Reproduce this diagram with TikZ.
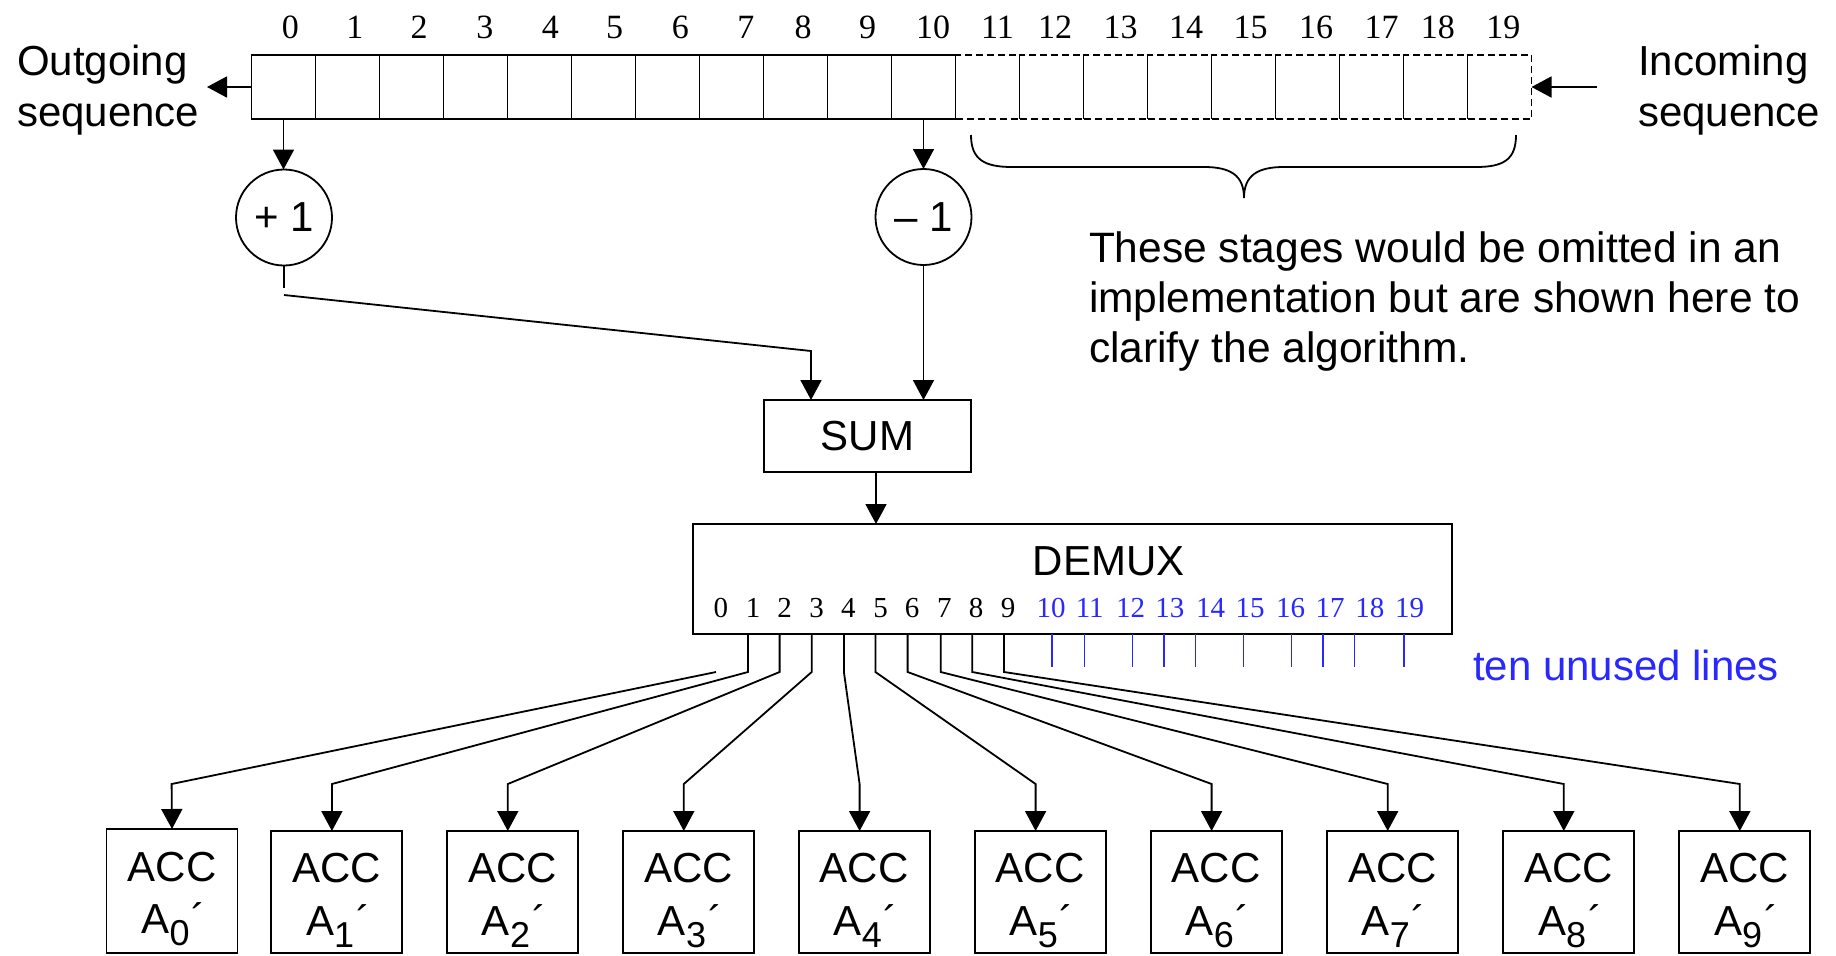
\documentclass[tikz,border=0pt]{standalone}
\usepackage{fontspec}
\setmainfont{Liberation Sans}
\newfontfamily\tnr{Liberation Serif}
\usetikzlibrary{arrows.meta,calc}
\definecolor{unused}{RGB}{40,40,255}
\newcommand\subdig[1]{\raisebox{-12bp}{\fontsize{36bp}{36bp}\selectfont #1}\hspace{2bp}}
\begin{document}
\begin{tikzpicture}[x=1bp,y=-1bp,
  every node/.style={inner sep=0pt,outer sep=0pt},
  ln/.style={line width=1.8bp},
  arr/.style={ln,-{Triangle[length=20bp,width=21bp]}},
  cell/.style={draw,line width=1.8bp,minimum width=64bp,minimum height=64bp},
  dcell/.style={draw,line width=1.4bp,dash pattern=on 7bp off 4bp,minimum width=64bp,minimum height=64bp},
  box/.style={draw,line width=1.8bp},
  txt/.style={font=\fontsize{42bp}{50bp}\selectfont},
  notetxt/.style={font=\fontsize{42.5bp}{50bp}\selectfont},
  num/.style={font=\tnr\fontsize{34bp}{40bp}\selectfont},
  dnum/.style={font=\tnr\fontsize{29bp}{34bp}\selectfont},
  tick/.style={draw=unused,line width=1.3bp}
]
\fill[white] (0,0) rectangle (1836,955);
\useasboundingbox (0,0) rectangle (1836,955);

% register
\foreach \i in {11,...,19} \node[dcell] (c\i) at ({283.5+64*\i},87) {};
\foreach \i in {0,...,10} \node[cell] (c\i) at ({283.5+64*\i},87) {};
\foreach \i/\x in {0/290.4,1/354.8,2/419.2,3/484.8,4/550.3,5/614.7,6/680.3,7/745.9,8/803.2,9/867.6,10/933.2,11/997.6,12/1055,13/1120.6,14/1186.1,15/1250.5,16/1316.1,17/1381.7,18/1437.9,19/1503.4}
  \node[num,anchor=base] (n\i) at (\x,38) {\i};

% outgoing / incoming
\coordinate (outtip) at (207,87);
\draw[arr] (c0.west) -- (outtip);
\node[txt,anchor=base west] (out1) at (17,75) {Outgoing};
\node[txt,anchor=base west] (out2) at (17,126) {sequence};
\coordinate (intail) at (1597,87);
\draw[arr] (intail) -- (c19.east);
\node[txt,anchor=base west] (in1) at (1638,75) {Incoming};
\node[txt,anchor=base west] (in2) at (1638,126) {sequence};

% brace
\draw[ln] (971,135) .. controls (971,160) and (985,167) .. (1012,167) -- (1204,167)
  .. controls (1230,167) and (1244,175) .. (1244,198)
  .. controls (1244,175) and (1258,167) .. (1284,167) -- (1476,167)
  .. controls (1503,167) and (1516,160) .. (1516,135);
\node[notetxt,anchor=base west] (note1) at (1089,262) {These stages would be omitted in an};
\node[notetxt,anchor=base west] (note2) at (1089,312) {implementation but are shown here to};
\node[notetxt,anchor=base west] (note3) at (1089,362) {clarify the algorithm.};

% circles
\node[draw,circle,line width=1.8bp,minimum size=96bp,txt] (plus) at (284,217.5) {+ 1};
\node[draw,circle,line width=1.8bp,minimum size=96bp,txt] (minus) at (923.5,217) {– 1};
\draw[arr] (c0.south) -- (c0.south |- plus.north);
\draw[arr] (c10.south) -- (c10.south |- minus.north);

% sum
\node[box,txt,minimum width=207bp,minimum height=72bp] (sum) at (867.5,436) {SUM};
\coordinate (pgap) at (284,288);
\draw[ln] (plus.south) -- (pgap);
\coordinate (pa) at (284,295);
\coordinate (pb) at (811,351);
\draw[arr] (pa) -- (pb) -- (pb |- sum.north);
\draw[arr] (minus.south) -- (minus.south |- sum.north);

% demux
\node[box,minimum width=759bp,minimum height=110bp] (demux) at (1072.5,579) {};
\node[txt,anchor=base] (demuxlbl) at (1108.6,575) {DEMUX};
\coordinate (sumout) at ($(sum.south)+(8.5,0)$);
\draw[arr] (sumout) -- (sumout |- demux.north);
\foreach \i/\x in {0/720.8,1/753,2/784.6,3/816.7,4/848.4,5/880.5,6/912,7/944.3,8/976,9/1008}
  \node[dnum,anchor=base] (d\i) at (\x,617) {\i};
\foreach \i/\x in {10/1051,11/1089.7,12/1130.5,13/1169.8,14/1210.6,15/1250,16/1290.7,17/1330,18/1369.8,19/1409.6}
  \node[dnum,anchor=base,text=unused] (d\i) at (\x,617) {\i};
\foreach \x in {1052,1084.2,1132.3,1163.9,1195.5,1243.5,1291.6,1323.1,1354.7,1403.9}
  \draw[tick] (\x,634) -- (\x,667);
\node[txt,anchor=base west,text=unused] (unusedlbl) at (1473,680) {ten unused lines};

% accumulators
\node[box,minimum width=131bp,minimum height=124bp] (acc0) at (172,891) {};
\node[txt,anchor=base] (acca0) at (172,881) {ACC};
\node[txt,anchor=base] (accb0) at (173.5,933) {A\subdig{0}´};
\foreach \i/\c in {1/336.6,2/512.5,3/688.5,4/864.3,5/1040.3,6/1216.3,7/1392.4,8/1568.5,9/1744.5}{
  \node[box,minimum width=131bp,minimum height=122bp] (acc\i) at (\c,892) {};
  \node[txt,anchor=base] (acca\i) at (\c,882) {ACC};
  \node[txt,anchor=base] (accb\i) at ({\c+1.5},935) {A\subdig{\i}´};
}
\coordinate (o0) at (716,672);
\draw[arr] (o0) -- (171.6,784) -- (acc0.north);
\foreach \i/\x/\c in {1/748/336.6,2/779.6/512.5,3/811.7/688.5,4/843.9/864.3,5/875.4/1040.3,6/907.6/1216.3,7/940.7/1392.4,8/972.3/1568.5,9/1004/1744.5}{
  \coordinate (o\i) at (\x,634);
  \draw[arr] (o\i) -- (\x,672) -- ({\c-4.7},784) -- ($(acc\i.north)+(-4.7,0)$);
}
\end{tikzpicture}
\end{document}
